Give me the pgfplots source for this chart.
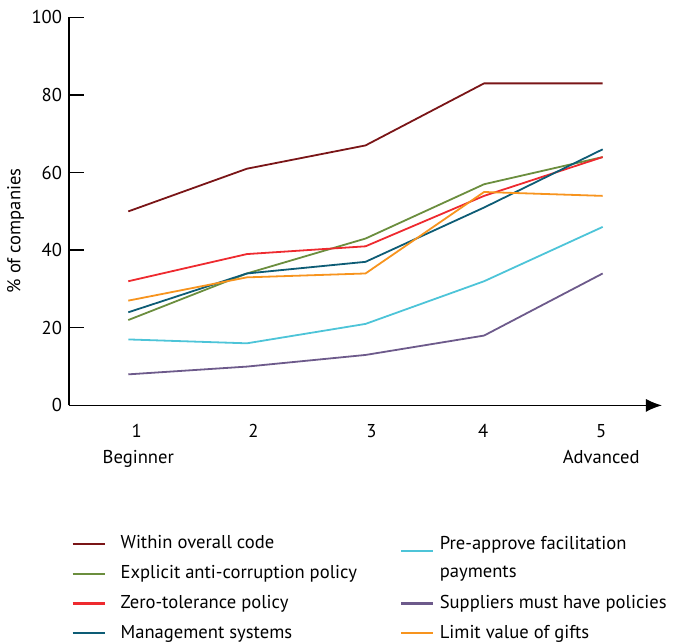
\documentclass[border=0pt]{standalone}
\usepackage{fontspec}
\setmainfont{PT Sans}
\usepackage{pgfplots}
\pgfplotsset{compat=1.18}
\usetikzlibrary{arrows.meta}

\definecolor{cWithin}{HTML}{7A1517}
\definecolor{cExplicit}{HTML}{6B8E3E}
\definecolor{cZero}{HTML}{EE2A2F}
\definecolor{cMgmt}{HTML}{0D5C75}
\definecolor{cPre}{HTML}{4DC4D8}
\definecolor{cSupp}{HTML}{6D5A8B}
\definecolor{cGifts}{HTML}{F7941E}

% shifted tick label: #1 = horizontal offset, #2 = text
\newcommand{\shiftlab}[2]{\makebox[0pt]{\hspace*{#1}#2}}

\begin{document}
\begin{tikzpicture}
\begin{axis}[
  name=ax,
  scale only axis,
  width=296.5pt, height=194pt,
  xmin=0.5, xmax=5.5, ymin=0, ymax=100,
  axis x line=bottom, axis y line=left,
  x axis line style={-{Latex[length=8pt,width=6.5pt]}, line width=0.7pt},
  y axis line style={-, line width=0.7pt},
  xtick={1,2,3,4,5},
  xticklabels={\shiftlab{8.4pt}{1}\\\shiftlab{10pt}{Beginner},\shiftlab{6.6pt}{2},\shiftlab{6pt}{3},\shiftlab{-1pt}{4},\shiftlab{-1.5pt}{5}\\\shiftlab{-1.5pt}{Advanced}},
  major x tick style={draw=none},
  xticklabel style={align=center, font=\fontsize{9.3}{13}\selectfont, yshift=-6pt},
  ytick={0,20,40,60,80,100},
  tick align=inside,
  major tick length=7.5pt,
  major y tick style={line width=0.7pt, black},
  yticklabel style={font=\fontsize{9.3}{11}\selectfont},
  /pgf/number format/assume math mode=true,
  every axis y label/.style={at={(axis description cs:-0.09,0.45)}, rotate=90, anchor=center},
  ylabel={\fontsize{9.3}{11}\selectfont\% of companies},
  legend columns=2,
  legend cell align=left,
  legend image code/.code={\draw[#1, line width=1.1pt] (0pt,0pt) -- (16pt,0pt);},
  legend style={
    at={(axis description cs:0,0)}, anchor=north west,
    xshift=1pt, yshift=-63pt,
    draw=none, fill=none, inner sep=0pt,
    font=\fontsize{9.3}{11}\selectfont,
    row sep=2.8pt,
    /tikz/column 1/.append style={column sep=5.5pt},
    /tikz/column 2/.append style={column sep=19.5pt},
    /tikz/column 3/.append style={column sep=0.8pt},
  },
  every axis plot/.append style={line width=0.9pt, mark=none},
]
\addplot[cWithin] coordinates {(1,50) (2,61) (3,67) (4,83) (5,83)};
\addlegendentry{Within overall code}
\addplot[cPre, legend image post style={yshift=-3.5pt, overlay}] coordinates {(1,17) (2,16) (3,21) (4,32) (5,46)};
\addlegendentry{\raisebox{-3.5pt}[0pt][0pt]{Pre-approve facilitation}}
\addplot[cExplicit] coordinates {(1,22) (2,34) (3,43) (4,57) (5,64)};
\addlegendentry{Explicit anti-corruption policy}
\addlegendimage{white}
\addlegendentry{payments}
\addplot[cZero] coordinates {(1,32) (2,39) (3,41) (4,54) (5,64)};
\addlegendentry{Zero-tolerance policy}
\addplot[cSupp] coordinates {(1,8) (2,10) (3,13) (4,18) (5,34)};
\addlegendentry{Suppliers must have policies}
\addplot[cMgmt] coordinates {(1,24) (2,34) (3,37) (4,51) (5,66)};
\addlegendentry{Management systems}
\addplot[cGifts] coordinates {(1,27) (2,33) (3,34) (4,55) (5,54)};
\addlegendentry{Limit value of gifts}
\end{axis}
\pgfresetboundingbox
\path[use as bounding box] ([xshift=-34.5pt,yshift=-117.9pt]ax.south west) rectangle ([xshift=308.5pt,yshift=202.7pt]ax.south west);
\end{tikzpicture}
\end{document}
